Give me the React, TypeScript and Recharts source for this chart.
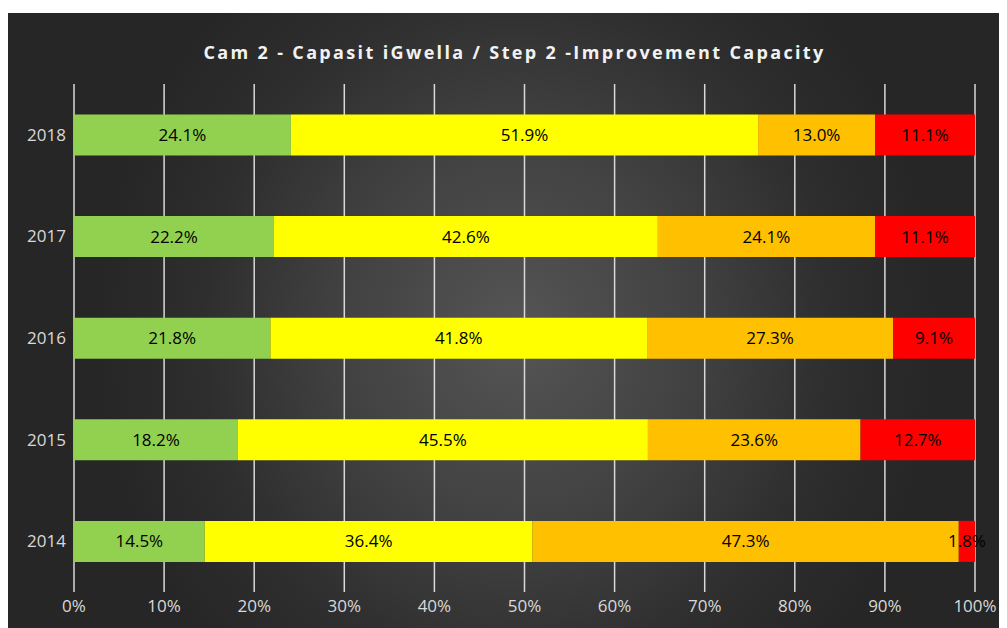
import { BarChart, Bar, XAxis, YAxis, CartesianGrid, LabelList } from 'recharts'

// Years top to bottom
const years = ['2018', '2017', '2016', '2015', '2014']
const green = [24.1, 22.2, 21.8, 18.2, 14.5]
const yellow = [51.9, 42.6, 41.8, 45.5, 36.4]
const orange = [13.0, 24.1, 27.3, 23.6, 47.3]
const red = [11.1, 11.1, 9.1, 12.7, 1.8]
const xTicks = [0, 0.1, 0.2, 0.3, 0.4, 0.5, 0.6, 0.7, 0.8, 0.9, 1]

const TITLE = 'Cam 2 - Capasit iGwella / Step 2 -Improvement Capacity'

const chartData = years.map((y, i) => ({
  year: y,
  green: green[i],
  yellow: yellow[i],
  orange: orange[i],
  red: red[i]
}))

const series = [
  { key: 'green', color: '#92d050' },
  { key: 'yellow', color: '#ffff00' },
  { key: 'orange', color: '#ffc000' },
  { key: 'red', color: '#ff0000' }
]

const FONT = '"Open Sans", sans-serif'

export default function App() {
  return (
    <div
      style={{
        position: 'relative',
        width: 999,
        height: 615,
        marginTop: 5,
        background:
          'radial-gradient(ellipse 42% 75% at 51% 52%, #555555 0%, #404040 45%, #2e2e2e 75%, #262626 100%)',
        fontFamily: FONT
      }}
    >
      <div
        style={{
          position: 'absolute',
          top: 27,
          left: 7,
          width: 999,
          textAlign: 'center',
          color: '#f2f2f2',
          fontWeight: 700,
          fontSize: 18,
          letterSpacing: 2.35
        }}
      >
        {TITLE}
      </div>
      <BarChart
        width={999}
        height={615}
        data={chartData}
        layout="vertical"
        stackOffset="expand"
        barCategoryGap="30%"
        margin={{ top: 71, right: 32, left: 0, bottom: 6 }}
      >
        <CartesianGrid horizontal={false} stroke="#d9d9d9" strokeWidth={1.5} />
        <XAxis
          type="number"
          domain={[0, 1]}
          ticks={xTicks}
          tickFormatter={(v) => `${Math.round(v * 100)}%`}
          tick={{ fill: '#d9d9d9', fontSize: 17, fontFamily: FONT }}
          axisLine={false}
          tickLine={false}
          height={30}
          interval={0}
        />
        <YAxis
          type="category"
          dataKey="year"
          tick={{ fill: '#d9d9d9', fontSize: 17, fontFamily: FONT }}
          axisLine={false}
          tickLine={false}
          width={66}
        />
        {series.map((s) => (
          <Bar key={s.key} dataKey={s.key} stackId="a" fill={s.color} isAnimationActive={false}>
            <LabelList
              dataKey={s.key}
              position="center"
              formatter={(v: number) => `${v.toFixed(1)}%`}
              style={{ fill: '#000', fontSize: 17, fontFamily: FONT }}
            />
          </Bar>
        ))}
      </BarChart>
    </div>
  )
}
